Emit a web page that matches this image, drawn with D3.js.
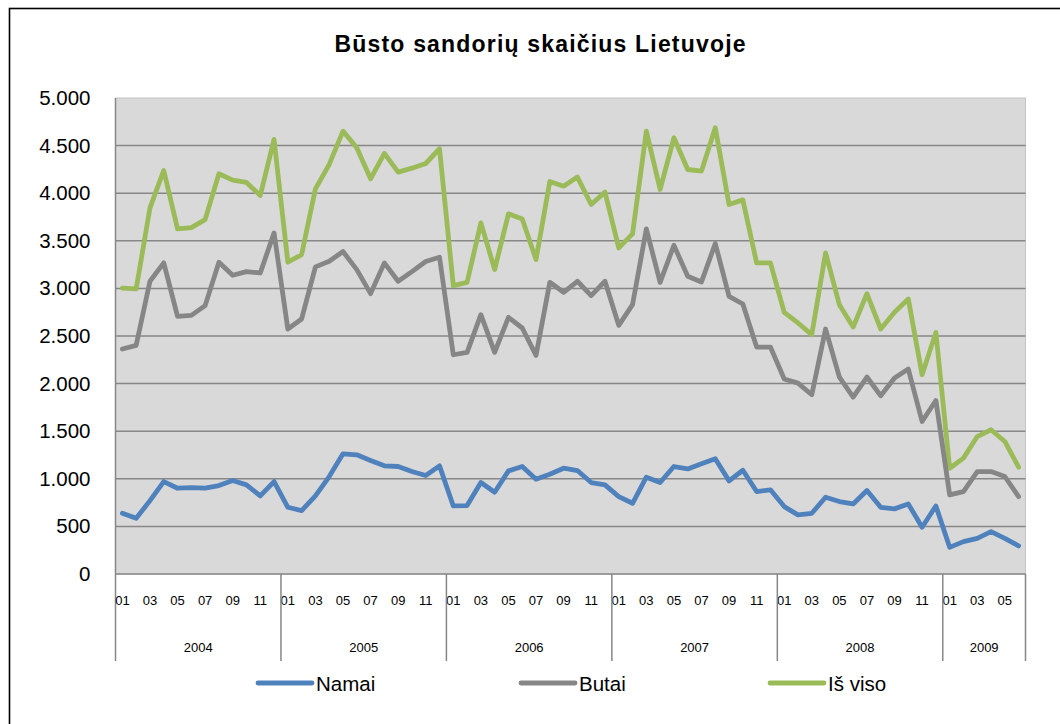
<!DOCTYPE html>
<html>
<head>
<meta charset="utf-8">
<script src="https://cdn.jsdelivr.net/npm/d3@7"></script>
<style>
  html, body { margin: 0; padding: 0; background: #fff; }
  svg { display: block; font-family: 'Liberation Sans', Arial, sans-serif; }
</style>
</head>
<body>
<svg id="chart" width="1060" height="724"></svg>
<script>
const years = ['2004', '2005', '2006', '2007', '2008', '2009']
const monthsPerYear = [12, 12, 12, 12, 12, 6]

const namai = [
  638, 585, 771, 971, 901, 908, 901, 929, 982, 936, 820, 971,
  701, 666, 820, 1024, 1262, 1252, 1192, 1136, 1129, 1076, 1034, 1136,
  715, 719, 961, 859, 1083, 1129, 996, 1048, 1111, 1087, 961, 936,
  813, 743, 1017, 961, 1129, 1104, 1157, 1210, 978, 1090,
  866, 884, 708, 621, 638, 806, 761, 736, 877, 701, 684, 736,
  491, 715, 280, 340, 375, 445, 375, 295,
]
const butai = [
  2363, 2402, 3075, 3268, 2707, 2717, 2819, 3275, 3138, 3176, 3162, 3583,
  2573, 2679, 3226, 3285, 3387, 3197, 2945, 3268, 3075, 3176, 3282, 3327,
  2303, 2328, 2724, 2328, 2696, 2584, 2296, 3064, 2959, 3075, 2924, 3075,
  2612, 2829, 3625, 3064, 3453, 3127, 3068, 3471, 2917, 2836,
  2384, 2384, 2048, 2005, 1883, 2573, 2069, 1858, 2069, 1872, 2058, 2153,
  1602, 1823, 831, 866, 1076, 1076, 1024, 813,
]
const isViso = [
  3003, 2994, 3846, 4239, 3625, 3639, 3723, 4204, 4137, 4113, 3976, 4565,
  3275, 3355, 4046, 4302, 4652, 4477, 4151, 4418, 4221, 4263, 4312, 4467,
  3029, 3064, 3688, 3198, 3783, 3730, 3303, 4123, 4074, 4169, 3881, 4011,
  3425, 3573, 4652, 4039, 4582, 4249, 4232, 4688, 3881, 3930,
  3268, 3268, 2749, 2637, 2514, 3373, 2829, 2594, 2945, 2573, 2749, 2889,
  2093, 2538, 1111, 1217, 1444, 1515, 1392, 1122,
]
const yTicks = [0, 500, 1000, 1500, 2000, 2500, 3000, 3500, 4000, 4500, 5000]

const seriesNames = ['Namai', 'Butai', 'Iš viso']
const seriesColors = ['#4f81bd', '#868686', '#9bbb59']

// month categories built from years
const cats = []
years.forEach((y, yi) => {
  for (let m = 1; m <= monthsPerYear[yi]; m++) {
    cats.push({ year: y, month: String(m).padStart(2, '0'), key: y + '-' + m })
  }
})

const plot = { left: 115.5, right: 1025.5, top: 98, bottom: 574 }
const svg = d3.select('#chart')

// outer frame
svg.append('rect')
  .attr('x', 9.5).attr('y', 8.5)
  .attr('width', 1080).attr('height', 760)
  .attr('fill', '#fff').attr('stroke', '#000').attr('stroke-width', 1.6)

svg.append('text')
  .attr('x', 540).attr('y', 52)
  .attr('text-anchor', 'middle')
  .attr('font-size', 23).attr('font-weight', 'bold')
  .attr('textLength', 411).attr('lengthAdjust', 'spacing')
  .text('Būsto sandorių skaičius Lietuvoje')

const x = d3.scaleBand()
  .domain(cats.map((c) => c.key))
  .range([plot.left, plot.right])
  .padding(0)
const cx = (k) => x(k) + x.bandwidth() / 2

const y = d3.scaleLinear().domain([0, 5000]).range([plot.bottom, plot.top])

const fmt = d3.formatLocale({ decimal: ',', thousands: '.', grouping: [3], currency: ['', ''] }).format(',d')

svg.append('rect')
  .attr('x', plot.left).attr('y', plot.top)
  .attr('width', plot.right - plot.left).attr('height', plot.bottom - plot.top)
  .attr('fill', '#d9d9d9')
  .attr('stroke', '#c4c4c4').attr('stroke-width', 1)

// gridlines
svg.append('g')
  .selectAll('line')
  .data(yTicks.filter((t) => t > 0 && t < 5000))
  .join('line')
  .attr('x1', plot.left).attr('x2', plot.right)
  .attr('y1', (d) => y(d)).attr('y2', (d) => y(d))
  .attr('stroke', '#878787').attr('stroke-width', 1.5)

// y axis labels
const yAxis = svg.append('g')
  .attr('transform', `translate(${plot.left},0)`)
  .call(d3.axisLeft(y).tickValues(yTicks).tickFormat(fmt).tickSize(0).tickPadding(25))
yAxis.select('.domain').remove()
yAxis.selectAll('text')
  .attr('font-size', 20.5).attr('fill', '#000')
  .attr('font-family', "'Liberation Sans', Arial, sans-serif")

// axis lines
svg.append('line')
  .attr('x1', plot.left).attr('x2', plot.left)
  .attr('y1', plot.top).attr('y2', 661)
  .attr('stroke', '#878787').attr('stroke-width', 1.5)
svg.append('line')
  .attr('x1', plot.left).attr('x2', plot.right)
  .attr('y1', plot.bottom).attr('y2', plot.bottom)
  .attr('stroke', '#878787').attr('stroke-width', 1.5)

// month labels
const monthAxis = svg.append('g')
  .attr('transform', `translate(0,${plot.bottom})`)
  .call(d3.axisBottom(x)
    .tickValues(cats.filter((c) => +c.month % 2 === 1).map((c) => c.key))
    .tickFormat((k) => k.split('-')[1].padStart(2, '0'))
    .tickSize(0).tickPadding(22))
monthAxis.select('.domain').remove()
monthAxis.selectAll('text')
  .attr('font-size', 13).attr('fill', '#000')
  .attr('font-family', "'Liberation Sans', Arial, sans-serif")

// year bands
let start = 0
const yearBands = years.map((yr, i) => {
  const first = cats[start].key
  const last = cats[start + monthsPerYear[i] - 1].key
  start += monthsPerYear[i]
  return { yr, x0: x(first), x1: x(last) + x.bandwidth() }
})
svg.append('g')
  .selectAll('line')
  .data(yearBands)
  .join('line')
  .attr('x1', (d) => d.x1).attr('x2', (d) => d.x1)
  .attr('y1', plot.bottom).attr('y2', 661)
  .attr('stroke', '#878787').attr('stroke-width', 1.5)
svg.append('g')
  .selectAll('text')
  .data(yearBands)
  .join('text')
  .attr('x', (d) => (d.x0 + d.x1) / 2)
  .attr('y', 652)
  .attr('text-anchor', 'middle')
  .attr('font-size', 13)
  .text((d) => d.yr)

// lines
const series = [namai, butai, isViso]
const line = d3.line()
  .x((d, i) => cx(cats[i].key))
  .y((d) => y(d))
svg.append('g')
  .selectAll('path')
  .data(series.map((values, i) => ({ values, color: seriesColors[i] })).reverse())
  .join('path')
  .attr('d', (d) => line(d.values))
  .attr('fill', 'none')
  .attr('stroke', (d) => d.color)
  .attr('stroke-width', 4.8)
  .attr('stroke-linejoin', 'round')
  .attr('stroke-linecap', 'round')

// legend
const legendX = [258, 521, 770]
const legend = svg.append('g')
  .selectAll('g')
  .data(seriesNames)
  .join('g')
  .attr('transform', (d, i) => `translate(${legendX[i]},683)`)
legend.append('line')
  .attr('x1', 0).attr('x2', 54)
  .attr('stroke', (d, i) => seriesColors[i])
  .attr('stroke-width', 4.8)
  .attr('stroke-linecap', 'round')
legend.append('text')
  .attr('x', 58).attr('y', 7.5)
  .attr('font-size', 20.5)
  .text((d) => d)
</script>
</body>
</html>
